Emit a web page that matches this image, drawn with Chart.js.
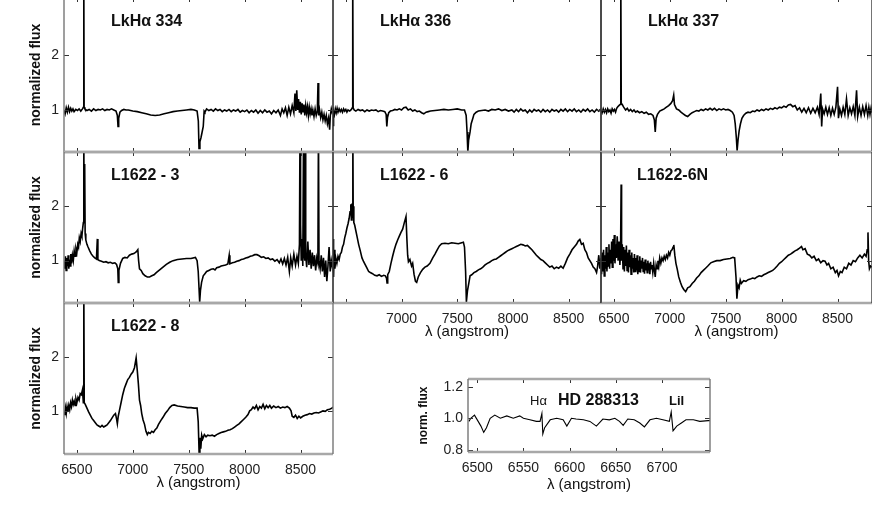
<!DOCTYPE html>
<html>
<head>
<meta charset="utf-8">
<script src="https://cdn.jsdelivr.net/npm/chart.js@4.4.1/dist/chart.umd.min.js"></script>
<style>
  html, body { margin: 0; padding: 0; background: #fff; }
  #wrap { position: relative; width: 872px; height: 507px; overflow: hidden; }
  #wrap canvas { position: absolute; }
</style>
</head>
<body>
<div id="wrap"></div>
<script>
// tick labels
const xTicks = [6500, 7000, 7500, 8000, 8500];
const yTicks = [1, 2];
const hdXTicks = [6500, 6550, 6600, 6650, 6700];
const hdYTicks = [0.8, 1.0, 1.2];

// spectra, [wavelength (A), normalized flux]
const lkha334 = [[6385,1.0],[6395,0.93],[6405,1.04],[6415,0.96],[6425,1.05],[6435,0.97],[6445,1.03],[6455,0.98],[6465,1.02],[6475,0.97],[6490,1.01],[6505,0.99],[6520,1.02],[6535,0.98],[6550,1.02],[6558,1.05],[6562,3.5],[6565,1.05],[6572,1.02],[6590,0.99],[6610,1.01],[6630,0.98],[6650,1.02],[6670,0.99],[6690,1.01],[6710,1.0],[6730,1.02],[6750,0.99],[6770,1.01],[6790,1.0],[6810,1.02],[6830,1.0],[6850,0.98],[6862,0.9],[6868,0.7],[6874,0.85],[6885,0.96],[6900,0.99],[6920,1.01],[6940,1.0],[6960,1.0],[6980,0.99],[7000,0.98],[7040,0.97],[7080,0.95],[7120,0.93],[7160,0.91],[7200,0.9],[7240,0.91],[7280,0.93],[7320,0.95],[7360,0.97],[7400,0.98],[7440,0.99],[7480,1.0],[7520,1.01],[7550,1.0],[7575,0.98],[7586,0.8],[7592,0.3],[7600,0.42],[7610,0.5],[7620,0.6],[7630,0.7],[7638,0.98],[7645,0.96],[7660,1.02],[7680,0.99],[7700,1.01],[7720,0.98],[7740,1.02],[7760,0.99],[7780,1.01],[7800,0.97],[7820,1.0],[7840,0.98],[7860,1.01],[7880,0.97],[7900,1.0],[7920,0.98],[7940,1.01],[7960,0.96],[7980,0.99],[8000,0.97],[8020,1.0],[8040,0.95],[8060,0.99],[8080,0.96],[8100,1.0],[8120,0.94],[8140,0.99],[8160,0.95],[8180,1.0],[8200,0.96],[8220,0.98],[8240,0.93],[8260,0.99],[8280,0.95],[8300,1.0],[8320,0.9],[8335,1.02],[8350,0.95],[8365,1.04],[8380,0.9],[8395,1.05],[8410,0.93],[8425,1.08],[8440,0.95],[8450,1.3],[8458,0.98],[8466,1.36],[8474,1.0],[8482,1.2],[8490,0.95],[8498,1.15],[8506,0.92],[8514,1.12],[8522,0.97],[8530,1.1],[8538,0.9],[8546,1.08],[8554,0.95],[8562,1.06],[8570,0.9],[8578,1.05],[8586,0.93],[8594,1.02],[8602,0.9],[8610,1.0],[8620,0.88],[8630,1.02],[8640,0.9],[8650,0.98],[8656,1.49],[8662,0.9],[8670,1.0],[8680,0.86],[8690,0.96],[8700,0.82],[8710,0.92],[8720,0.8],[8730,0.9],[8740,0.75],[8750,0.85],[8760,0.64],[8766,0.9],[8775,1.02],[8782,0.96],[8790,1.0]];

const lkha336 = [[6385,0.72],[6390,0.98],[6398,0.92],[6406,1.02],[6414,0.95],[6422,1.03],[6430,0.96],[6440,1.02],[6450,0.97],[6460,1.01],[6470,0.96],[6480,1.02],[6490,0.98],[6500,1.01],[6510,0.96],[6520,1.0],[6535,0.98],[6550,1.01],[6558,1.04],[6562,3.5],[6566,1.04],[6575,1.0],[6590,0.98],[6610,1.01],[6630,0.99],[6650,1.0],[6670,0.97],[6690,1.0],[6710,0.98],[6730,1.0],[6750,0.99],[6770,1.0],[6790,0.97],[6810,0.99],[6830,0.98],[6850,0.97],[6862,0.92],[6868,0.7],[6874,0.86],[6885,0.95],[6900,0.98],[6920,0.99],[6940,1.01],[6960,1.0],[6980,1.02],[7000,1.0],[7020,1.04],[7040,1.05],[7060,1.0],[7080,1.02],[7100,0.98],[7120,1.0],[7140,0.97],[7160,0.98],[7180,0.95],[7200,0.93],[7220,0.96],[7240,0.97],[7260,0.98],[7300,0.99],[7340,1.0],[7380,1.01],[7420,1.0],[7460,1.01],[7500,1.02],[7540,1.0],[7565,1.0],[7580,0.9],[7588,0.6],[7595,0.24],[7602,0.45],[7615,0.6],[7625,0.75],[7640,0.85],[7650,0.92],[7670,0.96],[7690,0.98],[7720,0.99],[7750,1.0],[7780,0.98],[7810,1.01],[7840,1.0],[7870,1.02],[7900,0.99],[7930,1.01],[7960,0.98],[7990,1.0],[8010,0.96],[8030,1.01],[8050,0.97],[8070,1.02],[8090,0.98],[8110,1.0],[8130,0.95],[8150,1.0],[8170,0.96],[8190,1.01],[8210,0.98],[8230,1.0],[8250,0.96],[8270,1.01],[8290,0.97],[8310,1.0],[8330,0.96],[8350,1.01],[8370,0.98],[8390,1.0],[8410,0.96],[8430,1.01],[8450,0.98],[8470,1.02],[8490,0.97],[8510,1.01],[8530,0.98],[8550,1.02],[8570,0.97],[8590,1.0],[8610,0.96],[8630,1.01],[8650,0.98],[8670,1.02],[8690,0.97],[8710,1.0],[8730,0.96],[8750,1.01],[8770,0.98],[8790,1.02]];

const lkha337 = [[6385,1.0],[6395,0.95],[6405,1.02],[6415,0.96],[6425,1.01],[6435,0.95],[6445,1.02],[6455,0.97],[6465,1.0],[6475,0.94],[6485,1.02],[6495,0.98],[6505,1.01],[6515,0.96],[6525,1.03],[6535,1.06],[6545,1.08],[6555,1.1],[6561,1.12],[6563,3.5],[6566,1.12],[6575,1.1],[6585,1.06],[6595,1.03],[6605,1.0],[6620,1.03],[6635,0.98],[6650,1.01],[6665,0.97],[6680,1.0],[6695,0.96],[6710,0.98],[6730,0.95],[6750,0.97],[6770,0.94],[6790,0.96],[6810,0.92],[6830,0.93],[6850,0.9],[6862,0.82],[6870,0.6],[6878,0.85],[6890,0.92],[6910,0.98],[6930,1.0],[6950,1.02],[6970,1.05],[6990,1.08],[7010,1.12],[7025,1.17],[7035,1.27],[7042,1.1],[7060,1.02],[7080,1.0],[7100,0.96],[7120,0.93],[7140,0.9],[7160,0.88],[7180,0.92],[7200,0.95],[7220,0.97],[7240,0.99],[7260,0.98],[7280,1.01],[7300,0.99],[7320,1.02],[7340,1.0],[7360,1.03],[7380,1.0],[7400,1.03],[7420,0.99],[7440,1.02],[7460,1.0],[7480,1.02],[7500,1.0],[7520,1.01],[7540,0.99],[7560,0.96],[7575,0.9],[7585,0.75],[7595,0.5],[7602,0.26],[7610,0.45],[7620,0.62],[7632,0.75],[7645,0.85],[7660,0.9],[7680,0.94],[7700,0.96],[7720,0.95],[7740,0.98],[7760,0.97],[7780,1.0],[7800,0.98],[7820,1.01],[7840,0.99],[7860,1.02],[7880,1.0],[7900,1.03],[7920,1.01],[7940,1.04],[7960,1.02],[7980,1.05],[8000,1.04],[8020,1.07],[8040,1.05],[8060,1.09],[8080,1.1],[8100,1.06],[8120,1.08],[8140,1.0],[8160,1.04],[8180,0.96],[8200,1.03],[8220,0.95],[8240,1.04],[8260,0.94],[8280,1.03],[8300,0.95],[8320,1.05],[8335,0.92],[8350,1.3],[8358,0.7],[8366,1.02],[8380,0.93],[8395,1.05],[8410,0.92],[8425,1.04],[8440,0.9],[8455,1.03],[8470,0.92],[8485,1.05],[8500,1.42],[8508,0.85],[8520,1.02],[8535,0.9],[8550,1.05],[8565,0.92],[8580,1.2],[8595,0.9],[8610,1.04],[8625,0.93],[8640,1.06],[8655,0.9],[8670,1.36],[8680,0.88],[8695,1.05],[8710,0.9],[8725,1.06],[8740,0.92],[8755,1.08],[8770,0.9],[8780,1.05],[8790,0.92],[8800,1.04],[8808,0.95]];

const l1622_3 = [[6385,1.0],[6392,0.85],[6398,1.08],[6404,0.82],[6410,1.05],[6416,0.9],[6422,1.1],[6428,0.85],[6434,1.02],[6440,0.9],[6446,1.12],[6452,0.95],[6460,1.1],[6468,1.0],[6476,1.18],[6484,1.08],[6492,1.22],[6500,1.15],[6508,1.3],[6515,1.25],[6522,1.42],[6530,1.35],[6538,1.5],[6545,1.45],[6552,1.6],[6558,1.7],[6562,3.5],[6565,1.8],[6570,2.78],[6574,1.5],[6580,1.38],[6590,1.3],[6600,1.25],[6615,1.18],[6630,1.12],[6645,1.08],[6660,1.05],[6675,1.03],[6683,1.4],[6688,1.02],[6700,1.0],[6720,0.99],[6740,0.97],[6760,0.98],[6780,0.96],[6800,0.97],[6820,0.95],[6840,0.96],[6855,0.93],[6866,0.85],[6870,0.6],[6876,0.82],[6890,0.95],[6910,1.04],[6930,1.06],[6950,1.05],[6970,1.1],[6990,1.12],[7010,1.13],[7030,1.16],[7045,1.2],[7052,1.0],[7060,0.85],[7075,0.82],[7090,0.76],[7110,0.72],[7130,0.7],[7150,0.7],[7170,0.72],[7190,0.74],[7210,0.78],[7240,0.83],[7270,0.88],[7300,0.93],[7330,0.97],[7360,1.0],[7400,1.02],[7440,1.03],[7480,1.04],[7520,1.04],[7560,1.06],[7575,1.0],[7585,0.8],[7592,0.5],[7598,0.24],[7605,0.45],[7615,0.6],[7630,0.72],[7645,0.76],[7660,0.8],[7680,0.82],[7700,0.84],[7720,0.85],[7735,0.83],[7750,0.87],[7770,0.88],[7790,0.9],[7810,0.91],[7830,0.92],[7850,0.94],[7862,1.1],[7868,0.94],[7890,0.96],[7910,0.97],[7930,0.99],[7950,1.0],[7970,1.02],[7990,1.03],[8010,1.05],[8030,1.06],[8050,1.08],[8070,1.09],[8090,1.11],[8110,1.11],[8130,1.09],[8150,1.06],[8170,1.07],[8190,1.04],[8210,1.05],[8230,1.02],[8250,1.03],[8270,0.99],[8290,1.02],[8310,0.96],[8325,1.03],[8340,0.94],[8355,1.04],[8370,0.92],[8385,1.06],[8400,0.8],[8412,1.05],[8425,0.9],[8440,1.12],[8455,0.92],[8468,1.08],[8480,0.95],[8490,1.3],[8495,3.5],[8500,1.66],[8506,1.0],[8514,1.4],[8520,0.9],[8527,3.5],[8532,1.1],[8538,1.0],[8542,3.5],[8546,1.1],[8555,0.88],[8565,1.35],[8575,0.92],[8585,1.2],[8595,0.85],[8605,1.15],[8615,0.9],[8625,1.1],[8635,0.82],[8645,1.05],[8655,0.95],[8660,3.5],[8665,0.98],[8675,0.85],[8685,1.1],[8695,0.8],[8705,1.05],[8715,0.7],[8725,1.0],[8735,0.62],[8745,0.9],[8755,1.25],[8765,0.8],[8775,1.0],[8785,0.88],[8790,1.0]];

const l1622_6 = [[6385,1.4],[6390,0.7],[6396,1.2],[6402,0.85],[6410,1.05],[6420,0.95],[6430,1.08],[6440,1.02],[6450,1.12],[6460,1.15],[6470,1.25],[6480,1.3],[6490,1.42],[6500,1.5],[6510,1.6],[6520,1.68],[6530,1.78],[6538,1.9],[6545,2.04],[6550,1.75],[6555,2.05],[6560,1.8],[6563,3.5],[6566,2.0],[6572,1.7],[6580,1.65],[6590,1.55],[6600,1.45],[6615,1.3],[6630,1.18],[6645,1.05],[6660,0.98],[6675,0.92],[6690,0.86],[6705,0.8],[6720,0.78],[6740,0.76],[6760,0.73],[6780,0.72],[6800,0.74],[6820,0.71],[6840,0.73],[6855,0.72],[6865,0.68],[6870,0.59],[6876,0.74],[6890,0.8],[6905,0.95],[6920,1.08],[6935,1.2],[6950,1.3],[6965,1.38],[6980,1.45],[6995,1.52],[7010,1.58],[7025,1.7],[7040,1.81],[7048,1.4],[7055,1.1],[7062,0.98],[7075,1.02],[7090,0.9],[7100,0.95],[7112,0.75],[7125,0.62],[7136,0.6],[7150,0.7],[7170,0.78],[7190,0.84],[7210,0.88],[7230,0.9],[7255,0.95],[7280,1.05],[7300,1.12],[7320,1.2],[7340,1.27],[7360,1.31],[7390,1.32],[7420,1.31],[7450,1.33],[7480,1.32],[7510,1.31],[7540,1.33],[7555,1.34],[7565,1.25],[7575,0.8],[7582,0.24],[7592,0.45],[7605,0.6],[7615,0.72],[7630,0.74],[7650,0.78],[7670,0.8],[7690,0.83],[7710,0.85],[7730,0.88],[7750,0.92],[7770,0.95],[7790,0.97],[7810,1.0],[7830,1.02],[7850,1.03],[7870,1.06],[7890,1.09],[7910,1.12],[7930,1.15],[7950,1.18],[7970,1.2],[7990,1.22],[8010,1.24],[8030,1.26],[8050,1.28],[8070,1.3],[8090,1.29],[8110,1.27],[8130,1.28],[8150,1.24],[8170,1.2],[8190,1.15],[8210,1.1],[8230,1.06],[8250,1.02],[8270,1.0],[8290,0.96],[8310,0.92],[8330,0.88],[8350,0.9],[8370,0.85],[8390,0.88],[8410,0.86],[8430,0.9],[8450,0.86],[8470,0.95],[8490,1.05],[8510,1.12],[8530,1.2],[8550,1.25],[8570,1.3],[8585,1.36],[8600,1.39],[8615,1.3],[8630,1.32],[8645,1.2],[8660,1.15],[8675,1.05],[8690,1.0],[8705,0.95],[8720,0.88],[8735,0.85],[8750,0.78],[8760,0.9],[8770,1.1],[8780,0.85],[8790,1.05]];

const l1622_6n = [[6385,1.1],[6390,0.75],[6396,1.15],[6402,0.8],[6408,1.2],[6414,0.72],[6420,1.1],[6426,0.85],[6432,1.25],[6438,0.8],[6444,1.15],[6450,0.9],[6456,1.3],[6462,0.85],[6468,1.2],[6474,0.95],[6480,1.35],[6486,0.88],[6492,1.4],[6498,1.0],[6504,1.47],[6510,0.95],[6516,1.3],[6522,1.05],[6530,1.45],[6538,1.0],[6546,1.35],[6554,0.92],[6560,1.2],[6565,2.4],[6569,1.0],[6575,1.3],[6582,0.85],[6588,1.25],[6594,0.8],[6600,1.2],[6606,0.9],[6612,1.28],[6618,0.82],[6624,1.15],[6630,0.78],[6636,1.2],[6642,0.88],[6648,1.1],[6654,0.75],[6660,1.15],[6666,0.85],[6672,1.05],[6678,0.78],[6684,1.12],[6690,0.8],[6696,1.05],[6702,0.82],[6708,1.1],[6714,0.75],[6720,1.0],[6726,0.8],[6732,1.08],[6738,0.78],[6744,1.0],[6750,0.85],[6756,1.05],[6762,0.8],[6768,0.98],[6774,0.76],[6780,1.02],[6786,0.82],[6792,0.95],[6798,0.78],[6804,1.0],[6810,0.82],[6816,0.95],[6822,0.75],[6828,0.98],[6834,0.85],[6840,0.92],[6848,0.78],[6856,0.95],[6864,0.8],[6870,0.7],[6878,0.92],[6886,0.85],[6894,1.0],[6902,0.9],[6910,1.05],[6920,0.95],[6930,1.05],[6940,1.0],[6950,1.08],[6960,1.02],[6970,1.1],[6980,1.05],[6990,1.15],[7000,1.1],[7010,1.18],[7020,1.2],[7030,1.25],[7036,1.29],[7045,1.1],[7055,0.95],[7067,0.84],[7080,0.7],[7095,0.6],[7110,0.52],[7125,0.47],[7142,0.43],[7160,0.5],[7180,0.52],[7200,0.58],[7220,0.62],[7240,0.68],[7260,0.72],[7280,0.78],[7300,0.82],[7320,0.86],[7340,0.9],[7367,0.96],[7390,0.98],[7420,1.0],[7450,1.0],[7480,1.02],[7510,1.03],[7540,1.04],[7565,1.06],[7580,1.05],[7592,0.7],[7600,0.3],[7610,0.55],[7620,0.5],[7630,0.64],[7640,0.58],[7660,0.63],[7680,0.62],[7700,0.65],[7720,0.66],[7740,0.68],[7760,0.67],[7780,0.7],[7800,0.72],[7820,0.71],[7840,0.74],[7860,0.76],[7880,0.78],[7900,0.8],[7920,0.82],[7937,0.85],[7960,0.9],[7980,0.95],[8000,0.98],[8020,1.02],[8040,1.06],[8060,1.1],[8080,1.12],[8100,1.15],[8120,1.18],[8140,1.2],[8160,1.23],[8178,1.26],[8190,1.2],[8210,1.22],[8230,1.12],[8250,1.1],[8270,1.05],[8290,1.08],[8310,1.0],[8330,1.03],[8350,0.96],[8370,1.0],[8388,0.99],[8405,0.92],[8420,0.95],[8440,0.85],[8460,0.88],[8480,0.78],[8495,0.82],[8509,0.72],[8525,0.8],[8540,0.78],[8560,0.88],[8580,0.85],[8600,0.95],[8620,0.92],[8640,1.0],[8660,0.98],[8680,1.05],[8700,1.1],[8720,1.05],[8740,1.12],[8755,1.08],[8765,1.2],[8772,1.52],[8778,1.0],[8785,0.85],[8795,0.9],[8808,0.88]];

const l1622_8 = [[6385,1.0],[6392,0.92],[6398,1.05],[6405,0.95],[6412,1.08],[6420,0.98],[6428,1.1],[6436,1.02],[6444,1.15],[6452,1.08],[6460,1.2],[6468,1.12],[6476,1.18],[6484,1.1],[6492,1.22],[6500,1.15],[6510,1.25],[6520,1.2],[6530,1.32],[6540,1.3],[6550,1.39],[6558,1.15],[6562,3.5],[6566,1.15],[6575,1.12],[6590,1.05],[6605,0.98],[6620,0.92],[6635,0.86],[6650,0.82],[6665,0.78],[6680,0.74],[6695,0.72],[6710,0.7],[6725,0.73],[6740,0.7],[6755,0.72],[6770,0.74],[6785,0.78],[6800,0.82],[6815,0.87],[6830,0.92],[6845,0.95],[6855,0.85],[6862,0.76],[6870,0.9],[6880,1.0],[6895,1.15],[6910,1.3],[6925,1.42],[6940,1.5],[6955,1.58],[6970,1.62],[6985,1.68],[7000,1.72],[7015,1.8],[7030,1.98],[7040,1.75],[7050,1.5],[7060,1.2],[7070,1.1],[7080,0.95],[7092,0.83],[7105,0.75],[7118,0.62],[7130,0.56],[7140,0.6],[7155,0.58],[7170,0.62],[7185,0.6],[7200,0.65],[7215,0.68],[7230,0.75],[7250,0.82],[7270,0.88],[7290,0.95],[7310,1.0],[7330,1.06],[7350,1.1],[7370,1.11],[7400,1.09],[7430,1.08],[7460,1.07],[7490,1.06],[7520,1.06],[7550,1.05],[7575,1.05],[7585,0.8],[7593,0.22],[7600,0.5],[7608,0.3],[7616,0.55],[7625,0.48],[7640,0.56],[7655,0.52],[7670,0.55],[7690,0.54],[7710,0.55],[7730,0.53],[7750,0.56],[7770,0.58],[7790,0.6],[7810,0.61],[7830,0.62],[7850,0.64],[7870,0.65],[7890,0.67],[7910,0.7],[7930,0.73],[7950,0.76],[7970,0.8],[7990,0.84],[8010,0.88],[8030,0.93],[8045,1.0],[8060,1.02],[8075,1.07],[8090,1.04],[8105,1.1],[8120,1.02],[8135,1.08],[8150,1.05],[8165,1.12],[8180,1.04],[8195,1.1],[8210,1.06],[8225,1.1],[8240,1.05],[8260,1.09],[8280,1.06],[8300,1.08],[8320,1.05],[8340,1.07],[8360,1.06],[8380,1.08],[8400,1.05],[8415,1.0],[8425,0.9],[8440,0.88],[8455,0.92],[8470,0.86],[8485,0.9],[8500,0.87],[8520,0.9],[8540,0.92],[8560,0.93],[8580,0.95],[8600,0.94],[8620,0.96],[8640,0.97],[8660,0.96],[8680,0.98],[8700,1.0],[8720,0.99],[8740,1.02],[8760,1.03],[8780,1.05],[8790,1.07]];

const hd288313 = [[6491,0.98],[6493,1.0],[6497,1.02],[6501,0.98],[6504,0.95],[6507,0.91],[6510,0.94],[6514,1.0],[6519,1.02],[6525,1.0],[6532,1.015],[6539,1.0],[6546,1.015],[6550,1.0],[6557,0.99],[6564,0.98],[6568,0.98],[6570,1.03],[6571,0.9],[6573,0.94],[6579,0.99],[6586,1.0],[6593,0.99],[6597,0.95],[6602,1.0],[6607,0.995],[6615,0.99],[6622,0.98],[6629,0.95],[6636,0.995],[6643,0.99],[6649,1.0],[6654,0.98],[6658,0.955],[6663,0.995],[6670,0.99],[6676,0.97],[6681,0.945],[6687,0.99],[6694,1.0],[6701,0.99],[6708,0.98],[6710,1.04],[6712,0.92],[6716,0.95],[6721,0.97],[6726,0.99],[6734,0.99],[6741,0.98],[6750,0.985],[6752,0.985]];

const FONT = "'Liberation Sans', Arial, Helvetica, sans-serif";
const wrap = document.getElementById('wrap');

// frame, inward ticks and in-panel labels
const framePlugin = {
  id: 'frame',
  afterDraw(chart, args, o) {
    const { ctx, chartArea: a, scales: { x, y } } = chart;
    ctx.save();
    ctx.strokeStyle = '#333';
    ctx.lineWidth = 1;
    ctx.beginPath();
    o.xt.forEach(v => {
      const px = Math.round(x.getPixelForValue(v)) + 0.5;
      ctx.moveTo(px, a.bottom); ctx.lineTo(px, a.bottom - 4);
      ctx.moveTo(px, a.top); ctx.lineTo(px, a.top + 4);
    });
    o.yt.forEach(v => {
      const py = Math.round(y.getPixelForValue(v)) + 0.5;
      ctx.moveTo(a.left, py); ctx.lineTo(a.left + 5, py);
      ctx.moveTo(a.right, py); ctx.lineTo(a.right - 5, py);
    });
    ctx.stroke();

    ctx.strokeStyle = '#a8a8a8';
    ctx.lineWidth = 2.5;
    ctx.beginPath();
    ctx.moveTo(a.left, a.top); ctx.lineTo(a.right, a.top);
    ctx.moveTo(a.left, a.bottom); ctx.lineTo(a.right, a.bottom);
    ctx.stroke();
    ctx.strokeStyle = o.edge || '#3a3a3a';
    ctx.lineWidth = 1.4;
    ctx.beginPath();
    ctx.moveTo(a.left, a.top); ctx.lineTo(a.left, a.bottom);
    ctx.moveTo(a.right, a.top); ctx.lineTo(a.right, a.bottom);
    ctx.stroke();

    ctx.fillStyle = '#111';
    ctx.textBaseline = 'middle';
    (o.labels || []).forEach(l => {
      ctx.font = l.font;
      ctx.fillText(l.text, a.left + l.dx, a.top + l.dy);
    });
    ctx.restore();
  }
};

function makePanel(p) {
  const padR = 20, padT = 20;
  const padL = p.padL || 20;
  const padB = p.xLabels ? (p.padB || 45) : 20;
  const W = p.w + padL + padR, H = p.h + padT + padB;
  const c = document.createElement('canvas');
  c.width = W; c.height = H;
  c.style.left = (p.x - padL) + 'px';
  c.style.top = (p.y - padT) + 'px';
  c.style.width = W + 'px';
  c.style.height = H + 'px';
  wrap.appendChild(c);

  new Chart(c, {
    type: 'line',
    data: {
      datasets: [{
        data: p.data.map(([x, y]) => ({ x, y })),
        borderColor: '#000',
        borderWidth: p.lw || 1.6,
        pointRadius: 0,
        tension: 0
      }]
    },
    options: {
      responsive: false,
      animation: false,
      devicePixelRatio: 1,
      layout: { padding: { top: padT, right: padR, left: 0, bottom: 0 } },
      plugins: {
        legend: { display: false },
        tooltip: { enabled: false },
        frame: { xt: p.xt, yt: p.yt, labels: p.labels, edge: p.edge }
      },
      scales: {
        x: {
          type: 'linear',
          min: p.xMin, max: p.xMax,
          grid: { display: false, drawTicks: false },
          border: { display: false },
          afterBuildTicks: s => { s.ticks = p.xt.map(v => ({ value: v })); },
          afterFit: s => { s.height = padB; },
          ticks: {
            display: !!p.xLabels,
            autoSkip: false, maxRotation: 0, padding: 8,
            color: '#222',
            font: { family: FONT, size: 14 },
            callback: v => (p.hideX || []).includes(v) ? '' : String(v)
          },
          title: {
            display: !!p.xLabels,
            text: 'λ (angstrom)',
            color: '#111',
            font: { family: FONT, size: 15 },
            padding: { top: 0, bottom: p.xTitlePad || 7 }
          }
        },
        y: {
          min: p.yMin, max: p.yMax,
          grid: { display: false, drawTicks: false },
          border: { display: false },
          afterBuildTicks: s => { s.ticks = p.yt.map(v => ({ value: v })); },
          afterFit: s => { s.width = padL; },
          ticks: {
            display: !!p.yLabels,
            padding: 5,
            color: '#222',
            font: { family: FONT, size: 14 },
            callback: v => p.yFmt ? p.yFmt(v) : String(v)
          },
          title: {
            display: !!p.yLabels,
            text: p.yTitle || 'normalized flux',
            color: '#111',
            font: { family: FONT, size: p.yTitleSize || 14, weight: 'bold' },
            padding: { top: p.yTitlePad || 28, bottom: 0 }
          }
        }
      }
    },
    plugins: [framePlugin]
  });
}

const xMin = 6385, xMax = 8790, xMaxRight = 8808;
const nameFont = "bold 16px " + FONT;
const name = (text, dx) => [{ text, dx: dx || 47, dy: 24, font: nameFont }];

makePanel({ data: lkha334, x: 64, y: -2, w: 269, h: 154, padL: 64, edge: '#777', yMin: 0.236, yMax: 3.036, xMin, xMax, xt: xTicks, yt: yTicks, yLabels: true, labels: name('LkHα 334') });
makePanel({ data: lkha336, x: 333, y: -2, w: 268, h: 154, yMin: 0.236, yMax: 3.036, xMin, xMax, xt: xTicks, yt: yTicks, labels: name('LkHα 336') });
makePanel({ data: lkha337, x: 601, y: -2, w: 271, h: 154, yMin: 0.236, yMax: 3.036, xMin, xMax: xMaxRight, xt: xTicks, yt: yTicks, labels: name('LkHα 337') });

makePanel({ data: l1622_3, x: 64, y: 152, w: 269, h: 151, padL: 64, edge: '#777', yMin: 0.22, yMax: 3.0, xMin, xMax, xt: xTicks, yt: yTicks, yLabels: true, labels: name('L1622 - 3') });
makePanel({ data: l1622_6, x: 333, y: 152, w: 268, h: 151, yMin: 0.22, yMax: 3.0, xMin, xMax, xt: xTicks, yt: yTicks, xLabels: true, hideX: [6500], labels: name('L1622 - 6') });
makePanel({ data: l1622_6n, x: 601, y: 152, w: 271, h: 151, yMin: 0.22, yMax: 3.0, xMin, xMax: xMaxRight, xt: xTicks, yt: yTicks, xLabels: true, labels: name('L1622-6N', 36) });

makePanel({ data: l1622_8, x: 64, y: 303, w: 269, h: 151, padL: 64, edge: '#777', yMin: 0.2, yMax: 3.0, xMin, xMax, xt: xTicks, yt: yTicks, yLabels: true, xLabels: true, labels: name('L1622 - 8') });

makePanel({
  data: hd288313, x: 468, y: 379, w: 242, h: 73, padL: 60, padB: 48, lw: 1.1, edge: '#777',
  yMin: 0.785, yMax: 1.25, xMin: 6490, xMax: 6752, xt: hdXTicks, yt: hdYTicks,
  yLabels: true, xLabels: true, xTitlePad: 6,
  yTitle: 'norm. flux', yTitleSize: 12, yTitlePad: 8,
  yFmt: v => v.toFixed(1),
  labels: [
    { text: 'Hα', dx: 62, dy: 22, font: "13px " + FONT },
    { text: 'HD 288313', dx: 90, dy: 22, font: "bold 16px " + FONT },
    { text: 'LiI', dx: 201, dy: 22, font: "bold 13px " + FONT }
  ]
});
</script>
</body>
</html>
